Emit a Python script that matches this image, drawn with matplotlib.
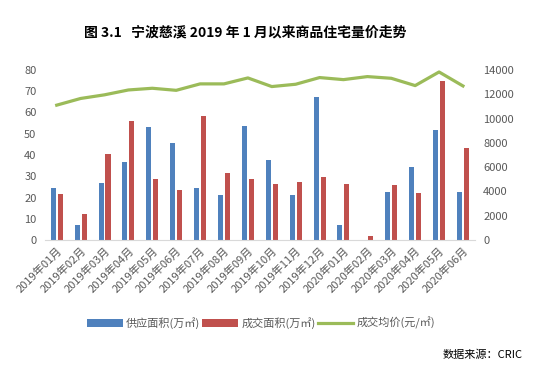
import numpy as np
import matplotlib.pyplot as plt

plt.rcParams['font.family'] = ['Noto Sans CJK SC', 'DejaVu Sans']

# Data
months = ["2019年01月", "2019年02月", "2019年03月", "2019年04月", "2019年05月", "2019年06月",
          "2019年07月", "2019年08月", "2019年09月", "2019年10月", "2019年11月", "2019年12月",
          "2020年01月", "2020年02月", "2020年03月", "2020年04月", "2020年05月", "2020年06月"]
supply = [24.5, 7.1, 26.8, 36.7, 53.2, 45.6, 24.5, 21.2, 53.6, 37.6,
          21.2, 67.3, 7.1, 0, 22.6, 34.4, 51.8, 22.6]
deal = [21.6, 12.2, 40.5, 56.0, 28.7, 23.5, 58.4, 31.5, 28.7, 26.4,
        27.3, 29.6, 26.4, 1.9, 25.9, 22.1, 74.8, 43.3]
price = [11100, 11650, 11950, 12350, 12490, 12320, 12850, 12850, 13340, 12630,
         12820, 13370, 13200, 13450, 13310, 12710, 13830, 12680]

blue = "#4F81BD"
red = "#C0504D"
green = "#9BBB59"
grey = "#595959"

fig = plt.figure(figsize=(5.33, 3.66), dpi=100)
ax = fig.add_axes([0.084, 0.344, 0.807, 0.465])
ax2 = ax.twinx()

x = np.arange(len(months))
w = 0.21
b1 = ax.bar(x - 0.146, supply, w, color=blue, label="供应面积(万㎡)")
b2 = ax.bar(x + 0.146, deal, w, color=red, label="成交面积(万㎡)")
l1, = ax2.plot(x, price, color=green, lw=2.3, label="成交均价(元/㎡)")

ax.set_xlim(-0.5, len(months) - 0.5)
ax.set_ylim(0, 80)
ax.set_yticks(range(0, 81, 10))
ax2.set_ylim(0, 14000)
ax2.set_yticks(range(0, 14001, 2000))

ax.set_xticks(x)
ax.set_xticklabels(months, rotation=45, ha="right", rotation_mode="anchor", fontsize=8, color=grey)

for a in (ax, ax2):
    for s in a.spines.values():
        s.set_visible(False)
    a.tick_params(length=0, labelsize=8, labelcolor=grey)
ax.spines["bottom"].set_visible(True)
ax.spines["bottom"].set_color("#D9D9D9")
ax.tick_params(axis="y", pad=6)
ax2.tick_params(axis="y", pad=6)

fig.text(0.46, 0.912, "图 3.1   宁波慈溪 2019 年 1 月以来商品住宅量价走势",
         ha="center", va="center", fontsize=10, fontweight="bold")

fig.legend(handles=[b1, b2, l1], loc="center", bbox_to_anchor=(0.49, 0.117), ncol=3,
           frameon=False, fontsize=8, handlelength=3.2, handletextpad=0.3,
           columnspacing=0.2, labelcolor=grey)

fig.text(0.98, 0.03, "数据来源：CRIC", ha="right", va="center", fontsize=8)

fig.savefig("out.png", dpi=100)
